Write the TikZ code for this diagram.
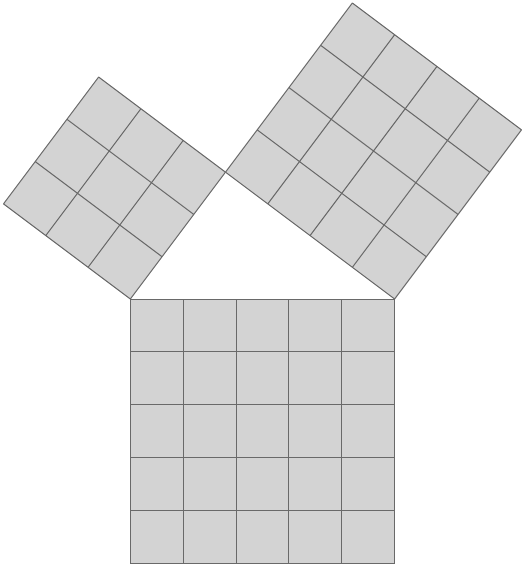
\documentclass[tikz,border=0pt]{standalone}
\begin{document}
\begin{tikzpicture}[x=1cm,y=1cm,
  tile/.style={fill={rgb,255:red,211;green,211;blue,211}, draw={rgb,255:red,105;green,105;blue,105}, line width=0.55pt, line join=miter}]
\useasboundingbox (-2.466,-5.051) rectangle (7.41,5.657);
% bottom square (5x5)
\begin{scope}[shift={(0,-5)}]
  \fill[tile, draw=none] (0,0) rectangle (5,5);
  \draw[tile, fill=none] (0,0) grid (5,5);
\end{scope}
% left square (3x3) on AC
\begin{scope}[cm={0.6,0.8,-0.8,0.6,(0,0)}]
  \fill[tile, draw=none] (0,0) rectangle (3,3);
  \draw[tile, fill=none] (0,0) grid (3,3);
\end{scope}
% right square (4x4) on CB
\begin{scope}[cm={0.8,-0.6,0.6,0.8,(1.8,2.4)}]
  \fill[tile, draw=none] (0,0) rectangle (4,4);
  \draw[tile, fill=none] (0,0) grid (4,4);
\end{scope}
\end{tikzpicture}
\end{document}
